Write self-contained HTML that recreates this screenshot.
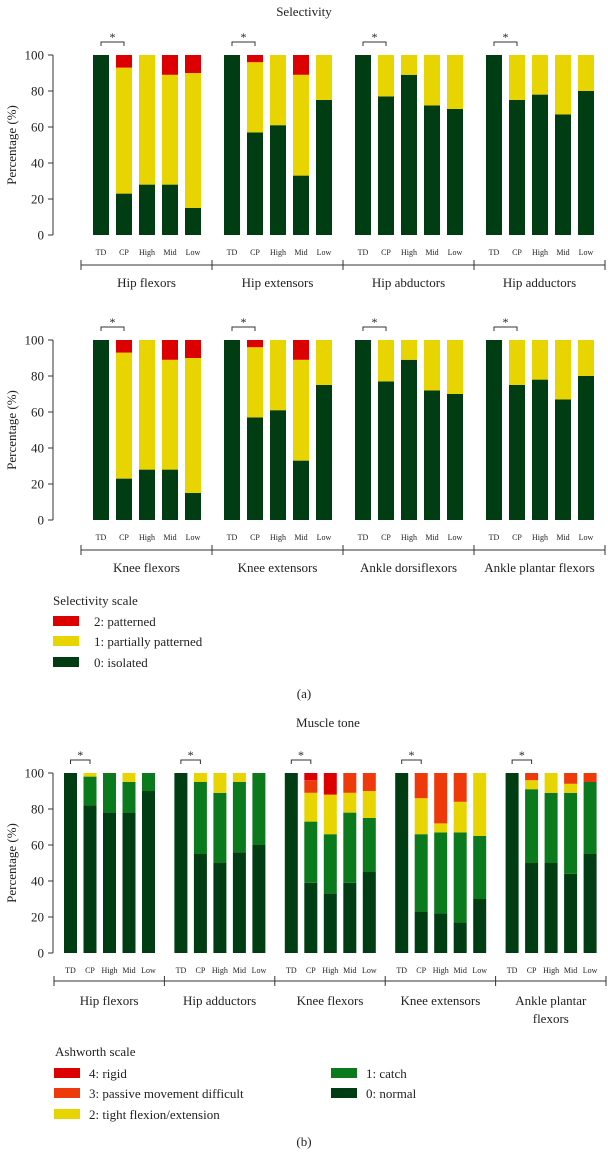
<!DOCTYPE html>
<html><head><meta charset="utf-8">
<style>
html,body{margin:0;padding:0;background:#fff;}
svg{display:block;font-family:"Liberation Serif",serif;}
</style></head>
<body>
<svg id="chart" width="608" height="1154" viewBox="0 0 608 1154" xmlns="http://www.w3.org/2000/svg"></svg>
<script>
const barLabels = ["TD","CP","High","Mid","Low"];
const selGroupsA = ["Hip flexors","Hip extensors","Hip abductors","Hip adductors"];
const selGroupsB = ["Knee flexors","Knee extensors","Ankle dorsiflexors","Ankle plantar flexors"];
// selectivity: [isolated, partially, patterned] per bar
const selIsolated = [[100,23,28,28,15],[100,57,61,33,75],[100,77,89,72,70],[100,75,78,67,80]];
const selPartial  = [[0,70,72,61,75],[0,39,39,56,25],[0,23,11,28,30],[0,25,22,33,20]];
const selPatterned= [[0,7,0,11,10],[0,4,0,11,0],[0,0,0,0,0],[0,0,0,0,0]];
const yTicks = [0,20,40,60,80,100];
const toneGroups = ["Hip flexors","Hip adductors","Knee flexors","Knee extensors","Ankle plantar flexors"];
const toneNormal = [[100,82,78,78,90],[100,55,50,56,60],[100,39,33,39,45],[100,23,22,17,30],[100,50,50,44,55]];
const toneCatch  = [[0,16,22,17,10],[0,40,39,39,40],[0,34,33,39,30],[0,43,45,50,35],[0,41,39,45,40]];
const toneTight  = [[0,2,0,5,0],[0,5,11,5,0],[0,16,22,11,15],[0,20,5,17,35],[0,5,11,5,0]];
const tonePassive= [[0,0,0,0,0],[0,0,0,0,0],[0,7,0,11,10],[0,14,28,16,0],[0,4,0,6,5]];
const toneRigid  = [[0,0,0,0,0],[0,0,0,0,0],[0,4,12,0,0],[0,0,0,0,0],[0,0,0,0,0]];

const C = {dg:"#003d12", g:"#0b7a1c", y:"#e8d400", o:"#ee3a0a", r:"#dd0000"};
const svg = document.getElementById('chart');
const NS = "http://www.w3.org/2000/svg";
function el(tag, attrs, txt){
  const e = document.createElementNS(NS, tag);
  for (const k in attrs) e.setAttribute(k, attrs[k]);
  if (txt !== undefined) e.textContent = txt;
  svg.appendChild(e);
  return e;
}
function text(x,y,s,size,anchor,name){
  const t = el('text',{x:x,y:y,'font-size':size,'text-anchor':anchor||'middle',fill:'#222'},s);
  
  
  return t;
}

function drawPanel(p){
  const yScale = v => p.y0 - (v/100)*(p.y0-p.y100);
  // y axis
  const ax = el('line',{x1:53,y1:p.y100,x2:53,y2:p.y0,stroke:'#333','stroke-width':1});
  
  
  yTicks.forEach(t=>{
    const ty = yScale(t);
    const tk = el('line',{x1:48,y1:ty,x2:53,y2:ty,stroke:'#333','stroke-width':1});
    
    
    text(44,ty+4.5,String(t),13,'end','y-tick-label');
  });
  const yt = text(0,0,'Percentage (%)',13,'middle','y-axis-title');
  yt.setAttribute('transform','translate(16,'+((p.y0+p.y100)/2)+') rotate(-90)');
  // x bracket line
  const bl = el('line',{x1:p.lineX0,y1:p.lineY,x2:p.lineX1,y2:p.lineY,stroke:'#333','stroke-width':1});
  
  
  p.groups.forEach((gname,gi)=>{
    const gx0 = p.lineX0 + gi*p.groupW;
    const tk = el('line',{x1:gx0,y1:p.lineY-5,x2:gx0,y2:p.lineY+5,stroke:'#333','stroke-width':1});
    
    
    const lines = p.wrap && gname.length>16 ? gname.split(/ (?=\S+$)/) : [gname];
    lines.forEach((ln,li)=>text(gx0+p.groupW/2+p.labelShift,p.gLabelY+li*18,ln,13,'middle','group-label'));
    barLabels.forEach((bl2,bi)=>{
      const bx = gx0 + p.firstOff + bi*p.step;
      let acc = 0;
      p.series.forEach(s=>{
        const v = s.data[gi][bi];
        if (v>0){
          const r = el('rect',{x:bx,y:yScale(acc+v),width:p.bw,height:yScale(acc)-yScale(acc+v),fill:s.color});
          
          
        }
        acc += v;
      });
      text(bx+p.bw/2,p.catY,bl2,8,'middle','category-label');
    });
    // significance bracket
    const c1 = gx0 + p.firstOff + p.bw/2, c2 = c1 + p.step;
    const by = p.y100 - 13;
    const br = el('path',{d:`M${c1},${by+4}V${by}H${c2}V${by+4}`,fill:'none',stroke:'#333','stroke-width':1});
    
    
    text((c1+c2)/2,by-1,'*',12,'middle','significance-star');
  });
  if (p.last) {
    const tk = el('line',{x1:p.lineX1,y1:p.lineY-5,x2:p.lineX1,y2:p.lineY+5,stroke:'#333','stroke-width':1});
    
    
  }
}
const selSeries = [{key:'isolated',color:C.dg,data:selIsolated},{key:'partial',color:C.y,data:selPartial},{key:'patterned',color:C.r,data:selPatterned}];
text(304,16,'Selectivity',13,'middle','chart-title-selectivity');
drawPanel({y100:55,y0:235,groups:selGroupsA,series:selSeries,lineX0:81,lineX1:605,groupW:131,firstOff:12,step:23,bw:16,catY:255,lineY:265,gLabelY:287,labelShift:0,last:true});
drawPanel({y100:340,y0:520,groups:selGroupsB,series:selSeries,lineX0:81,lineX1:605,groupW:131,firstOff:12,step:23,bw:16,catY:540,lineY:550,gLabelY:572,labelShift:0,last:true});
// legend a
text(53,605,'Selectivity scale',13,'start','legend-title-selectivity');
[[C.r,'2: patterned',621],[C.y,'1: partially patterned',641],[C.dg,'0: isolated',662]].forEach(l=>{
  const r = el('rect',{x:53,y:l[2]-5,width:26,height:10,fill:l[0]});
  
  
  text(94,l[2]+5,l[1],13,'start','legend-entry');
});
text(304,698,'(a)',13,'middle','panel-label-a');
text(328,727,'Muscle tone',13,'middle','chart-title-muscle-tone');
const toneSeries = [{key:'normal',color:C.dg,data:toneNormal},{key:'catch',color:C.g,data:toneCatch},{key:'tight',color:C.y,data:toneTight},{key:'passive',color:C.o,data:tonePassive},{key:'rigid',color:C.r,data:toneRigid}];
drawPanel({y100:773,y0:953,groups:toneGroups,series:toneSeries,lineX0:54,lineX1:606,groupW:110.4,firstOff:10,step:19.5,bw:13,catY:973,lineY:981,gLabelY:1005,labelShift:0,wrap:true,last:true});
// legend b
text(55,1056,'Ashworth scale',13,'start','legend-title-ashworth');
[[C.r,'4: rigid',1073,54],[C.o,'3: passive movement difficult',1093,54],[C.y,'2: tight flexion/extension',1114,54],[C.g,'1: catch',1073,331],[C.dg,'0: normal',1093,331]].forEach(l=>{
  const r = el('rect',{x:l[3],y:l[2]-5,width:26,height:10,fill:l[0]});
  
  
  text(l[3]+35,l[2]+5,l[1],13,'start','legend-entry');
});
text(304,1146,'(b)',13,'middle','panel-label-b');
</script>
</body></html>
